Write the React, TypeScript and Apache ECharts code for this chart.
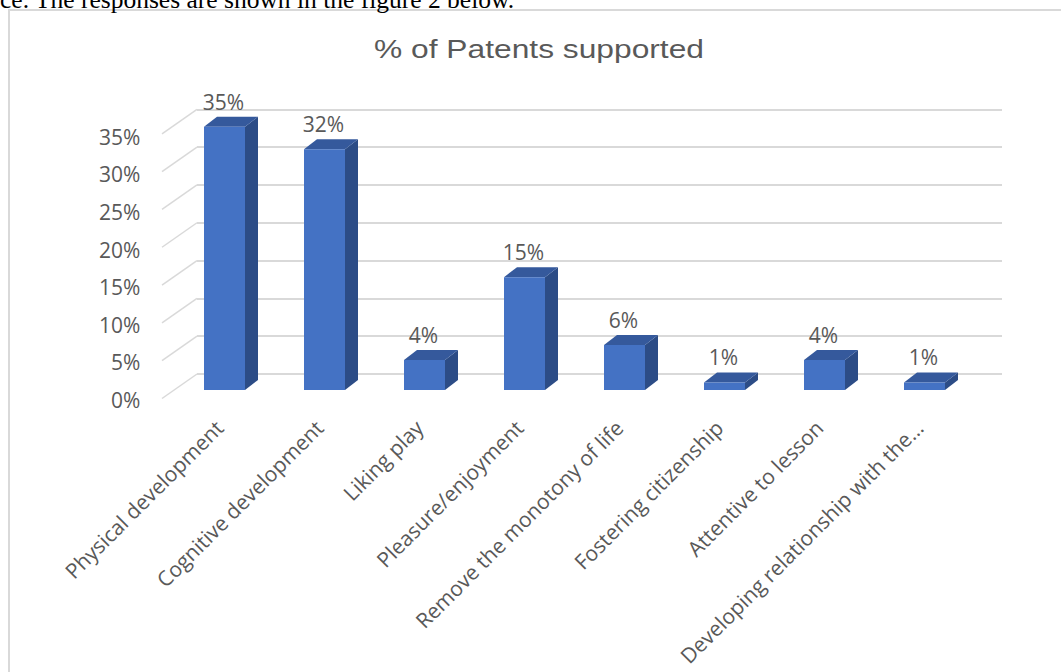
import React, { useEffect, useRef } from 'react';
import * as echarts from 'echarts';

// ---- data ----
const categories: string[] = [
  'Physical development',
  'Cognitive development',
  'Liking play',
  'Pleasure/enjoyment',
  'Remove the monotony of life',
  'Fostering citizenship',
  'Attentive to lesson',
  'Developing relationship with the…',
];
const values: number[] = [35, 32, 4, 15, 6, 1, 4, 1];
const yMin = 0;
const yMax = 35;
const yStep = 5;
const yTicks: number[] = [0, 5, 10, 15, 20, 25, 30, 35];
const chartTitle = '% of Patents supported';
const pageText = 'ce. The responses are shown in the figure 2 below.';

export default function App() {
  const ref = useRef<HTMLDivElement>(null);
  useEffect(() => {
    if (!ref.current) return;
    const chart = echarts.init(ref.current, null, { renderer: 'svg' });
    const font = "'Open Sans', sans-serif";
    const fs = 21;
    const labelColor = '#595959';
    const FRONT = '#4472c4';
    const SIDE = '#2c4c86';
    const TOP = '#35599c';
    const DX = 13;
    const DY = -10;
    const grid = '#d9d9d9';

    const option: any = {
      animation: false,
      backgroundColor: '#ffffff',
      grid: [
        // back wall
        { left: 197, top: 109.3, width: 805, height: 264.7, containLabel: false },
        // front plane of bars
        { left: 174.5, top: 126.8, width: 800, height: 263.2, containLabel: false },
        // wall front edge / labels
        { left: 169.3, top: 136.7, width: 800, height: 263.3, containLabel: false },
      ],
      xAxis: [
        { gridIndex: 0, type: 'value', min: 0, max: 1, show: false },
        { gridIndex: 1, type: 'category', data: categories, show: false },
        {
          gridIndex: 2,
          type: 'category',
          data: categories,
          axisLine: { show: false },
          axisTick: { show: false },
          splitLine: { show: false },
          axisLabel: {
            interval: 0,
            rotate: 45,
            margin: 24,
            color: labelColor,
            fontFamily: font,
            fontSize: fs,
          },
        },
      ],
      yAxis: [
        {
          gridIndex: 0,
          type: 'value',
          min: yMin,
          max: yMax,
          interval: yStep,
          axisLine: { show: false },
          axisTick: { show: false },
          axisLabel: { show: false },
          splitLine: { show: true, lineStyle: { color: grid, width: 2 } },
        },
        { gridIndex: 1, type: 'value', min: yMin, max: yMax, interval: yStep, show: false },
        {
          gridIndex: 2,
          type: 'value',
          min: yMin,
          max: yMax,
          interval: yStep,
          axisLine: { show: false },
          axisTick: { show: false },
          splitLine: { show: false },
          axisLabel: {
            formatter: '{value}%',
            margin: 29,
            color: labelColor,
            fontFamily: font,
            fontSize: fs,
          },
        },
      ],
      graphic: [
        {
          type: 'rect',
          shape: { x: 9, y: 10, width: 1200, height: 800 },
          style: { fill: '#ffffff', stroke: grid, lineWidth: 2 },
          z: -10,
        },
        {
          type: 'text',
          x: 0,
          y: -0.3,
          style: {
            text: pageText,
            font: '25.5px "Liberation Serif", "Times New Roman", serif',
            fill: '#000000',
            verticalAlign: 'middle',
          },
        },
        {
          type: 'text',
          x: 539,
          y: 49,
          scaleX: 1.27,
          style: {
            text: chartTitle,
            font: '25px "Liberation Sans", Arial, sans-serif',
            fill: labelColor,
            align: 'center',
            verticalAlign: 'middle',
          },
        },
      ],
      series: [
        {
          type: 'custom',
          name: 'wall',
          xAxisIndex: 0,
          yAxisIndex: 0,
          silent: true,
          data: yTicks.map((t) => [0, t]),
          renderItem: (params: any, api: any) => {
            const p = api.coord([0, api.value(1)]);
            return {
              type: 'line',
              shape: { x1: p[0], y1: p[1], x2: p[0] - 35, y2: p[1] + 24.5 },
              style: { stroke: grid, lineWidth: 1.5 },
            };
          },
        },
        {
          type: 'custom',
          name: '% of Patents supported',
          xAxisIndex: 1,
          yAxisIndex: 1,
          data: values.map((v, i) => [i, v]),
          renderItem: (params: any, api: any) => {
            const i = api.value(0);
            const v = api.value(1);
            const top = api.coord([i, v]);
            const base = api.coord([i, 0]);
            const half = api.size([1, 0])[0] * 0.205;
            const xl = top[0] - half;
            const xr = top[0] + half;
            const yt = top[1];
            const yb = base[1];
            return {
              type: 'group',
              children: [
                {
                  type: 'polygon',
                  shape: { points: [[xr, yt], [xr + DX, yt + DY], [xr + DX, yb + DY], [xr, yb]] },
                  style: { fill: SIDE },
                },
                {
                  type: 'polygon',
                  shape: { points: [[xl, yt], [xl + DX, yt + DY], [xr + DX, yt + DY], [xr, yt]] },
                  style: { fill: TOP },
                },
                {
                  type: 'rect',
                  shape: { x: xl, y: yt, width: xr - xl, height: yb - yt },
                  style: { fill: FRONT },
                },
                {
                  type: 'text',
                  x: top[0] - 1,
                  y: yt - 25,
                  style: {
                    text: v + '%',
                    fill: labelColor,
                    font: `${fs}px ${font}`,
                    align: 'center',
                    verticalAlign: 'middle',
                  },
                },
              ],
            };
          },
        },
      ],
    };
    chart.setOption(option);
    return () => chart.dispose();
  }, []);
  return (
    <div
      ref={ref}
      style={{ position: 'fixed', left: 0, top: 0, width: 1061, height: 672 }}
    />
  );
}
